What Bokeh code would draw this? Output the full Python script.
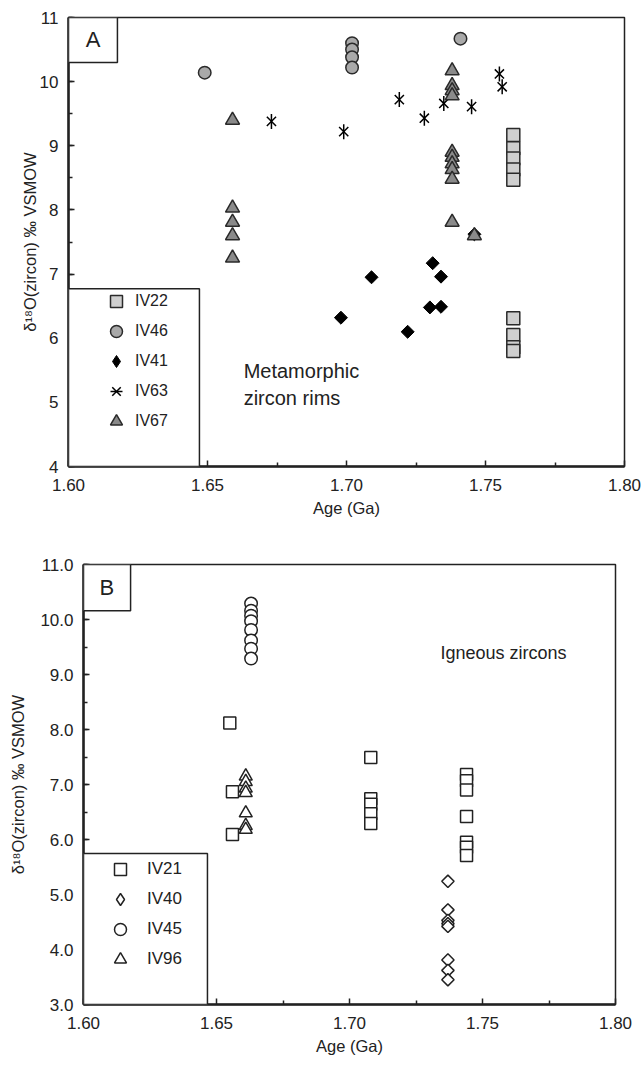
import math
from bokeh.plotting import figure
from bokeh.models import (FixedTicker, SingleIntervalTicker, NumeralTickFormatter,
                          Legend, LegendItem, BoxAnnotation, Label, Range1d)
from bokeh.embed import file_html
from bokeh.resources import INLINE

# ---------------- Panel A: metamorphic zircon rims ----------------
iv22_age = [1.760, 1.760, 1.760, 1.760, 1.760, 1.760, 1.760, 1.760, 1.760]
iv22_d18o = [9.17, 8.96, 8.80, 8.63, 8.47, 6.31, 6.05, 5.86, 5.80]
iv46_age = [1.649, 1.702, 1.702, 1.702, 1.702, 1.741]
iv46_d18o = [10.14, 10.60, 10.50, 10.38, 10.22, 10.67]
iv41_age = [1.698, 1.709, 1.722, 1.731, 1.734, 1.730, 1.734, 1.746]
iv41_d18o = [6.32, 6.95, 6.10, 7.17, 6.96, 6.48, 6.49, 7.62]
iv63_age = [1.673, 1.699, 1.719, 1.728, 1.735, 1.745, 1.755, 1.756]
iv63_d18o = [9.38, 9.22, 9.72, 9.43, 9.66, 9.61, 10.12, 9.92]
iv67_age = [1.659, 1.659, 1.659, 1.659, 1.659,
            1.738, 1.738, 1.738, 1.738, 1.738, 1.738, 1.738, 1.738, 1.738, 1.738, 1.746]
iv67_d18o = [9.40, 8.03, 7.81, 7.60, 7.25,
             10.17, 9.94, 9.86, 9.78, 8.90, 8.82, 8.72, 8.63, 8.48, 7.81, 7.60]

# ---------------- Panel B: igneous zircons ----------------
iv21_age = [1.655, 1.656, 1.656, 1.708, 1.708, 1.708, 1.708, 1.708,
            1.744, 1.744, 1.744, 1.744, 1.744, 1.744, 1.744]
iv21_d18o = [8.12, 6.87, 6.09, 7.49, 6.74, 6.64, 6.47, 6.29,
             7.18, 7.07, 6.90, 6.42, 5.95, 5.86, 5.71]
iv40_age = [1.737, 1.737, 1.737, 1.737, 1.737, 1.737, 1.737, 1.737]
iv40_d18o = [5.24, 4.72, 4.53, 4.47, 4.42, 3.81, 3.62, 3.45]
iv45_age = [1.663, 1.663, 1.663, 1.663, 1.663, 1.663, 1.663, 1.663]
iv45_d18o = [10.29, 10.16, 10.07, 9.97, 9.81, 9.62, 9.47, 9.29]
iv96_age = [1.661, 1.661, 1.661, 1.661, 1.661, 1.661, 1.661]
iv96_d18o = [7.15, 7.05, 6.93, 6.85, 6.48, 6.25, 6.18]

x_ticks = [1.60, 1.65, 1.70, 1.75, 1.80]
x_minor = [1.625, 1.675, 1.725, 1.775]

FONT = "Liberation Sans"
YLABEL = "δ¹⁸O(zircon) ‰ VSMOW"
INK = "#222222"


def style(p, yfmt):
    p.xgrid.visible = False
    p.ygrid.visible = False
    p.outline_line_color = INK
    p.outline_line_width = 1.5
    p.background_fill_color = "white"
    p.border_fill_color = "white"
    p.xaxis.ticker = FixedTicker(ticks=x_ticks, minor_ticks=x_minor)
    p.xaxis.formatter = NumeralTickFormatter(format="0.00")
    p.yaxis.ticker = SingleIntervalTicker(interval=1, num_minor_ticks=2)
    p.yaxis.formatter = NumeralTickFormatter(format=yfmt)
    for ax in (p.xaxis[0], p.yaxis[0]):
        ax.axis_line_width = 2.5
        ax.axis_line_color = INK
        ax.major_tick_in = 6
        ax.major_tick_out = 0
        ax.minor_tick_in = 4
        ax.minor_tick_out = 0
        ax.major_tick_line_width = 1.5
        ax.minor_tick_line_width = 1.5
        ax.major_tick_line_color = INK
        ax.minor_tick_line_color = INK
        ax.major_label_text_font = FONT
        ax.major_label_text_font_size = "17px"
        ax.major_label_text_color = INK
        ax.axis_label_text_font = FONT
        ax.axis_label_text_font_style = "normal"
        ax.axis_label_text_font_size = "16.5px"
        ax.axis_label_text_color = INK
    p.xaxis.axis_label = "Age (Ga)"
    p.yaxis.axis_label = YLABEL
    p.xaxis.major_label_standoff = 12
    p.xaxis.axis_label_standoff = 5
    p.yaxis.major_label_standoff = 10


def make_legend(items, loc, standoff, fsize):
    return Legend(items=items, location=loc, padding=0, margin=0, spacing=-3,
                  glyph_width=30, glyph_height=30, label_height=30, label_standoff=standoff,
                  label_text_font=FONT, label_text_font_size=fsize, label_text_color=INK,
                  border_line_alpha=0, background_fill_alpha=0)


# ---------- figure A ----------
pA = figure(width=644, height=530, x_range=Range1d(1.6, 1.8), y_range=Range1d(4, 11),
            output_backend="svg", toolbar_location=None,
            min_border_left=68, min_border_right=20, min_border_top=17, min_border_bottom=64)
style(pA, "0")
pA.yaxis.axis_label_standoff = -2

EDGE = "#2a2a2a"
r22 = pA.scatter(iv22_age, iv22_d18o, marker="square", size=13, fill_color="#cfcfcf",
                 line_color=EDGE, line_width=1.5)
r46 = pA.scatter(iv46_age, iv46_d18o, marker="circle", size=12.5, fill_color="#a9a9a9",
                 line_color=EDGE, line_width=1.5)
# zero-size copy of IV41 used only to give the legend a diamond key
r41_key = pA.scatter(iv41_age, iv41_d18o, marker="diamond", size=0, fill_color="black",
                     line_color="black", line_width=1)
r41 = pA.scatter(iv41_age, iv41_d18o, marker="square", angle=math.pi / 4, size=9.2,
                 fill_color="black", line_color="black", line_width=1)
r63a = pA.scatter(iv63_age, iv63_d18o, marker="x", size=13, line_color="black", line_width=1.5)
r63b = pA.scatter(iv63_age, iv63_d18o, marker="dash", angle=math.pi / 2, size=15,
                  line_color="black", line_width=1.5)
r67 = pA.scatter(iv67_age, iv67_d18o, marker="triangle", size=14, fill_color="#8a8a8a",
                 line_color=EDGE, line_width=1.5)

boxA = BoxAnnotation(left=1.6, right=1.6471, bottom=4, top=6.77, fill_color="white",
                     fill_alpha=1, line_color=INK, line_width=1.5, line_alpha=1)
pA.add_layout(boxA)
tagA = BoxAnnotation(left=1.6, right=1.6176, bottom=10.30, top=11, fill_color="white",
                     fill_alpha=1, line_color=INK, line_width=1.5, line_alpha=1)
pA.add_layout(tagA)
pA.add_layout(Label(x=1.6088, y=10.65, text="A", text_align="center", text_baseline="middle",
                    text_font=FONT, text_font_size="22px", text_color=INK))
pA.add_layout(Label(x=1.663, y=5.49, text="Metamorphic", text_align="left",
                    text_baseline="middle", text_font=FONT, text_font_size="20px",
                    text_color=INK))
pA.add_layout(Label(x=1.663, y=5.07, text="zircon rims", text_align="left",
                    text_baseline="middle", text_font=FONT, text_font_size="20px",
                    text_color=INK))

legA = make_legend([LegendItem(label="IV22", renderers=[r22]),
                    LegendItem(label="IV46", renderers=[r46]),
                    LegendItem(label="IV41", renderers=[r41_key]),
                    LegendItem(label="IV63", renderers=[r63a, r63b]),
                    LegendItem(label="IV67", renderers=[r67])],
                   (33, 30), 4, "16px")
pA.add_layout(legA)

# ---------- figure B ----------
pB = figure(width=644, height=538, x_range=Range1d(1.6, 1.8), y_range=Range1d(3, 11),
            output_backend="svg", toolbar_location=None,
            min_border_left=83, min_border_right=29, min_border_top=34, min_border_bottom=64)
style(pB, "0.0")
pB.yaxis.axis_label_standoff = 10

r21 = pB.scatter(iv21_age, iv21_d18o, marker="square", size=12, fill_color="white",
                 line_color=INK, line_width=1.5)
r40_key = pB.scatter(iv40_age, iv40_d18o, marker="diamond", size=0, fill_color="white",
                     line_color=INK, line_width=1.5)
r40 = pB.scatter(iv40_age, iv40_d18o, marker="square", angle=math.pi / 4, size=8.7,
                 fill_color="white", line_color=INK, line_width=1.5)
r45 = pB.scatter(iv45_age, iv45_d18o, marker="circle", size=12.5, fill_color="white",
                 line_color=INK, line_width=1.5)
r96 = pB.scatter(iv96_age, iv96_d18o, marker="triangle", size=13, fill_color="white",
                 line_color=INK, line_width=1.5)

boxB = BoxAnnotation(left=1.6, right=1.6466, bottom=3, top=5.745, fill_color="white",
                     fill_alpha=1, line_color=INK, line_width=1.5, line_alpha=1)
pB.add_layout(boxB)
tagB = BoxAnnotation(left=1.6, right=1.6177, bottom=10.16, top=11, fill_color="white",
                     fill_alpha=1, line_color=INK, line_width=1.5, line_alpha=1)
pB.add_layout(tagB)
pB.add_layout(Label(x=1.6088, y=10.58, text="B", text_align="center", text_baseline="middle",
                    text_font=FONT, text_font_size="22px", text_color=INK))
pB.add_layout(Label(x=1.7342, y=9.40, text="Igneous zircons", text_align="left",
                    text_baseline="middle", text_font=FONT, text_font_size="18px",
                    text_color=INK))

legB = make_legend([LegendItem(label="IV21", renderers=[r21]),
                    LegendItem(label="IV40", renderers=[r40_key]),
                    LegendItem(label="IV45", renderers=[r45]),
                    LegendItem(label="IV96", renderers=[r96])],
                   (22, 30), 12, "17px")
pB.add_layout(legB)

open("out.html", "w").write(file_html([pA, pB], INLINE))
